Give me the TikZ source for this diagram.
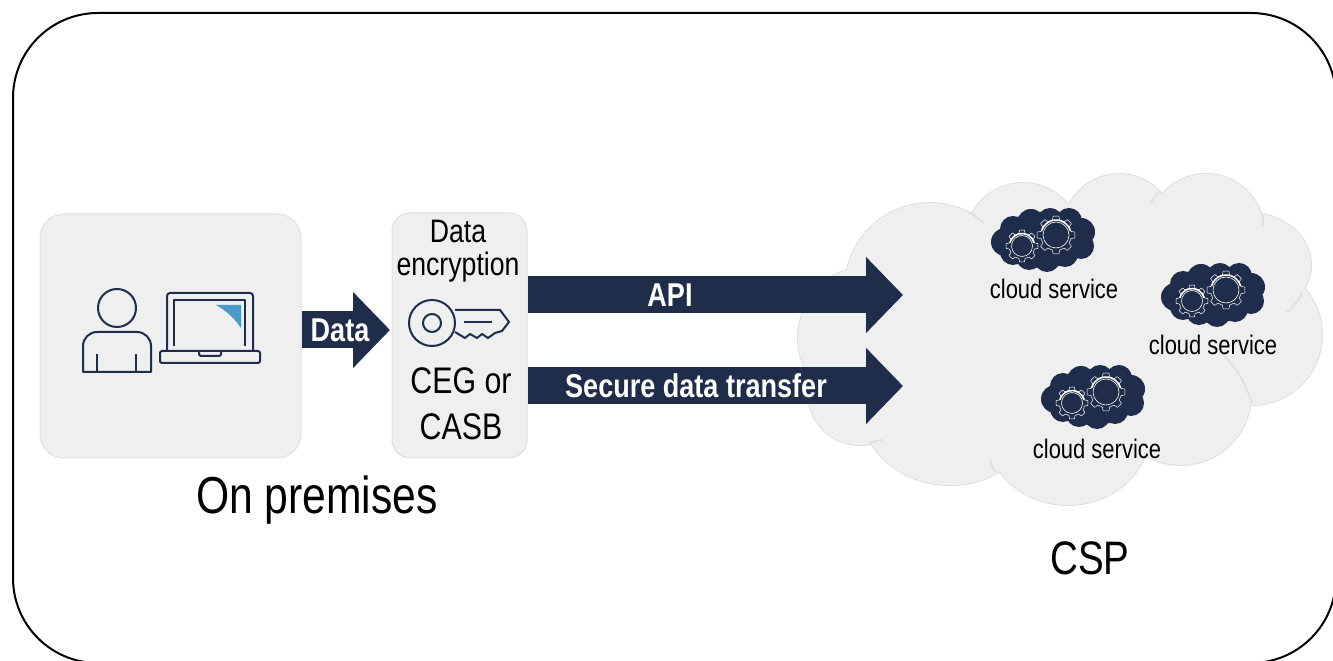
\documentclass[tikz,border=0pt]{standalone}
\usepackage{fontspec}
\setmainfont[FakeStretch=0.82]{Liberation Sans}
\usetikzlibrary{arrows.meta,positioning}
\definecolor{navy}{HTML}{1F2D4A}
\definecolor{panel}{HTML}{EFEFEF}
\definecolor{panelline}{HTML}{E0E0E0}
\definecolor{screenblue}{HTML}{4A9BCB}
\newcommand{\drawgear}[3]{
  \begin{scope}[shift={(#1)}]
    \draw[white,line width=0.5pt,line join=round] (0:#2)
      \foreach \a in {0,45,...,315} {
        -- ({\a+9}:#2) -- ({\a+13}:#3) -- ({\a+32}:#3) -- ({\a+36}:#2) -- ({\a+45}:#2)
      } -- cycle;
    \draw[white,line width=0.6pt] (0,0) circle ({#3-2.5});
    \draw[white,line width=1.5pt] (15:{#3-0.5}) arc (15:165:{#3-0.5});
  \end{scope}
}
\tikzset{
  box/.style={draw=panelline,line width=1pt,fill=panel,rounded corners=#1},
  lobe/.style={draw=panelline,line width=2pt},
  lobefill/.style={fill=panel},
  seam/.style={draw=panelline,line width=2pt,line cap=round},
  icon/.style={draw=navy,line width=2pt,line join=round},
  bigarrow/.style={draw=navy,line width=37pt,-{Triangle[length=37pt,width=74pt]}},
  arrowtext/.style={text=white,font=\bfseries\fontsize{33}{33}\selectfont},
  svclabel/.style={font=\fontsize{26.8}{27}\selectfont},
  boxtext/.style={font=\fontsize{32.5}{33}\selectfont},
  bigtext/.style={font=\fontsize{37}{37}\selectfont},
  hugetext/.style={font=\fontsize{52}{52}\selectfont},
  svcicon/.pic={
    \fill[navy] (0,0) ellipse (44 and 28);
    \foreach \cx/\cy/\r in {-38/-2/14,-30/11/13,-12/17/14,7/19/13,26/19/13,38/8/14,38/-6/13,
      22/-14/13,4/-19/13,-14/-17/13,-30/-12/13} {
      \fill[navy] (\cx,\cy) circle (\r);
    }
    \drawgear{-21,-6}{16}{13}
    \drawgear{13,5}{19}{15.5}
  }
}
\begin{document}
\begin{tikzpicture}[x=1pt,y=1pt]
  \useasboundingbox (0,0) rectangle (1333,661);
  \fill[white] (0,0) rectangle (1333,661);
  \draw[black,line width=2pt,rounded corners=85pt] (13,-2) rectangle (1336,648);

  \node[box=24pt,minimum width=261pt,minimum height=244pt] (onprem) at (170.5,325) {};
  \node[box=18pt,minimum width=135pt,minimum height=245pt] (enc) at (459.5,325.5) {};
  \node[hugetext] (onpremlabel) at (317,161) {On premises};
  \node[boxtext] (enctop) at (458,430) {Data};
  \node[boxtext] (encmid) at (458,394) {encryption};
  \node[bigtext] (ceg) at (461,280) {CEG or};
  \node[bigtext] (casb) at (461,234) {CASB};

  \foreach \cx/\cy/\rx/\ry in {930/373/85/85,1023/420/58/58,1119/431/56/56,1206/429/58/58,
    1250/396/61/52,1252/326/70/70,1181/266/70/70,1068/231/82/75,950/256/90/80,
    860/268/52/52,870/323/72/72} {
    \draw[lobe] (\cx,\cy) ellipse ({\rx} and {\ry});
  }
  \foreach \cx/\cy/\rx/\ry in {930/373/85/85,1023/420/58/58,1119/431/56/56,1206/429/58/58,
    1250/396/61/52,1252/326/70/70,1181/266/70/70,1068/231/82/75,950/256/90/80,
    860/268/52/52,870/323/72/72,1060/320/140/120} {
    \fill[lobefill] (\cx,\cy) ellipse ({\rx} and {\ry});
  }
  \draw[seam] (969,449) to[bend left=8] (983,438);
  \draw[seam] (1159,469) to[bend right=8] (1151,458);
  \draw[seam] (1262,448) to[bend left=8] (1263,436);
  \draw[seam] (1302,368) to[bend left=12] (1287,349);
  \draw[seam] (1222,308) to[bend left=12] (1252,258);
  \draw[seam] (995,189) to[bend left=8] (990,201);
  \draw[seam] (870,218) to[bend left=6] (882,221);

  \coordinate (datatip) at (390,331);
  \coordinate (apitip) at (903,366);
  \coordinate (sectip) at (903,275);
  \draw[bigarrow] (onprem.east |- datatip) -- (datatip);
  \draw[bigarrow] (enc.east |- apitip) -- (apitip);
  \draw[bigarrow] (enc.east |- sectip) -- (sectip);
  \node[arrowtext] (datalabel) at (340,331) {Data};
  \node[arrowtext] (apilabel) at (670,366) {API};
  \node[arrowtext] (seclabel) at (696,275) {Secure data transfer};

  \pic at (1043,421) {svcicon};
  \pic at (1213,366) {svcicon};
  \pic at (1093,264) {svcicon};
  \node[svclabel] (svca) at (1054,372) {cloud service};
  \node[svclabel] (svcb) at (1213,316) {cloud service};
  \node[svclabel] (svcc) at (1097,212) {cloud service};
  \node[bigtext,font=\fontsize{47}{47}\selectfont] (csp) at (1090,103) {CSP};

  \draw[icon] (117,353) circle (19);
  \draw[icon] (83,289) -- (83,315) arc (180:90:14) -- (137,329) arc (90:0:14) -- (151,289) -- cycle;
  \draw[icon] (97,289) -- (97,307);
  \draw[icon] (136,289) -- (136,307);

  \draw[icon,rounded corners=3pt] (167,310) -- (167,368) -- (253,368) -- (253,310);
  \draw[icon,rounded corners=2pt] (160,298) rectangle (260,310);
  \draw[icon,rounded corners=2pt] (199,310) -- (199,305) -- (221,305) -- (221,310);
  \draw[icon] (174,315) -- (174,361) -- (245,361) -- (245,315);
  \fill[screenblue] (216,356) -- (241,356) -- (241,333) to[bend right=12] (216,356);

  \draw[icon] (432,338) circle (23);
  \draw[icon] (432,338) circle (9);
  \draw[icon] (455,351) -- (500,351) -- (509,339) -- (502,330) -- (495,328)
    -- (488,323) -- (482,327) -- (477,323) -- (470,327) -- (465,323) -- (455,329);
  \draw[icon] (464,339) -- (492,339);
\end{tikzpicture}
\end{document}
